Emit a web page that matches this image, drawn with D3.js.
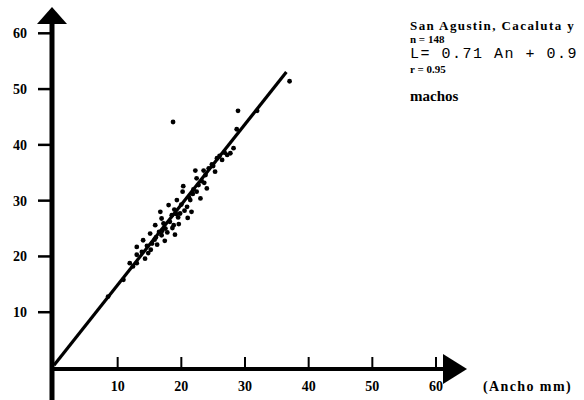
<!DOCTYPE html>
<html>
<head>
<meta charset="utf-8">
<script src="https://cdn.jsdelivr.net/npm/d3@7/dist/d3.min.js"></script>
<style>
  html, body { margin: 0; padding: 0; background: #fff; }
  svg { display: block; }
  .tick-label { font-family: "Liberation Serif", "DejaVu Serif", serif; font-weight: bold; font-size: 14px; fill: #000; }
  .note { font-family: "Liberation Serif", "DejaVu Serif", serif; font-weight: bold; fill: #000; }
  .eq { font-family: "Liberation Mono", "DejaVu Sans Mono", monospace; fill: #000; }
</style>
</head>
<body>
<svg id="chart" width="584" height="400"></svg>
<script>
// Ancho (mm) vs L: individual males
const anchoValues = [
  8.5, 10.9, 11.9, 12.4, 13.0, 13.0, 13.0, 13.8, 14.0, 14.3,
  14.8, 15.1, 15.4, 15.2, 15.9, 15.8, 16.2, 16.5, 16.7, 16.9,
  16.9, 17.2, 17.5, 17.4, 17.8, 18.0, 18.2, 18.5, 18.6, 18.8,
  18.9, 19.0, 19.3, 19.5, 19.8, 19.6, 20.0, 20.2, 20.3, 20.5,
  20.9, 21.0, 21.2, 21.4, 21.6, 21.8, 22.2, 22.4, 22.4, 22.7,
  23.0, 23.2, 23.5, 23.8, 24.0, 24.3, 24.8, 25.3, 25.6, 26.0,
  26.4, 26.8, 27.2, 27.7, 28.2, 28.7, 28.9, 18.7, 31.9, 37.0,
  14.6, 16.0, 17.0, 19.2, 21.9, 23.6, 25.0
];
const largoValues = [
  12.8, 15.8, 18.8, 18.2, 18.8, 20.3, 21.7, 20.8, 22.9, 19.6,
  20.6, 24.1, 22.3, 21.2, 25.6, 23.0, 22.1, 24.4, 28.0, 26.8,
  23.8, 25.9, 25.0, 22.8, 24.3, 29.2, 26.2, 27.4, 25.1, 25.6,
  28.4, 23.9, 30.1, 27.0, 27.7, 25.8, 29.3, 31.6, 32.6, 28.2,
  28.9, 26.9, 30.6, 30.1, 28.0, 31.2, 35.4, 34.0, 31.6, 32.8,
  30.4, 33.5, 35.4, 34.6, 32.2, 35.8, 36.5, 35.2, 37.6, 38.0,
  37.3, 38.6, 38.2, 38.5, 39.4, 42.8, 46.1, 44.1, 46.1, 51.4,
  21.9, 23.4, 24.6, 27.6, 32.0, 33.2, 36.2
];

// fitted line (drawn over the An range of the sample)
const fitSlope = 1.44;
const fitIntercept = 0.5;
const fitRange = [0, 36.5];

const xTicks = [10, 20, 30, 40, 50, 60];
const yTicks = [10, 20, 30, 40, 50, 60];
const noteLines = ["San Agustin, Cacaluta y", "n = 148"];
const equationText = "L= 0.71 An + 0.9";
const rText = "r = 0.95";
const groupText = "machos";
const xAxisTitle = "(Ancho mm)";

const svg = d3.select("#chart");

const x = d3.scaleLinear().domain([0, 60]).range([54, 436]);
const y = d3.scaleLinear().domain([0, 60]).range([368, 33.3]);

// vertical axis with arrow head
const axisX = 52;
svg.append("line")
  .attr("x1", axisX).attr("x2", axisX)
  .attr("y1", 20).attr("y2", 400)
  .attr("stroke", "#000").attr("stroke-width", 5);
svg.append("path")
  .attr("d", `M${axisX},7 L${axisX + 15},24 L${axisX - 15},24 Z`)
  .attr("fill", "#000");

// horizontal axis with arrow head
const axisY = 369;
svg.append("line")
  .attr("x1", axisX).attr("x2", 448)
  .attr("y1", axisY).attr("y2", axisY)
  .attr("stroke", "#000").attr("stroke-width", 4);
svg.append("path")
  .attr("d", `M467,${axisY} L443,${axisY - 15} L443,${axisY + 15} Z`)
  .attr("fill", "#000");

// y ticks and labels
const yAxisG = svg.append("g");
yAxisG.selectAll("line.yt").data(yTicks).join("line")
  .attr("class", "yt")
  .attr("x1", 38).attr("x2", axisX)
  .attr("y1", d => y(d)).attr("y2", d => y(d))
  .attr("stroke", "#000").attr("stroke-width", 2.5);
yAxisG.selectAll("text").data(yTicks).join("text")
  .attr("class", "tick-label")
  .attr("x", 27).attr("y", d => y(d) + 5)
  .attr("text-anchor", "end")
  .text(d => d);

// x ticks and labels
const xAxisG = svg.append("g");
xAxisG.selectAll("line.xt").data(xTicks).join("line")
  .attr("class", "xt")
  .attr("x1", d => x(d)).attr("x2", d => x(d))
  .attr("y1", axisY - 12).attr("y2", axisY)
  .attr("stroke", "#000").attr("stroke-width", 2);
xAxisG.selectAll("text").data(xTicks).join("text")
  .attr("class", "tick-label")
  .attr("x", d => x(d)).attr("y", 391)
  .attr("text-anchor", "middle")
  .text(d => d);
svg.append("text")
  .attr("class", "tick-label")
  .attr("x", 483).attr("y", 391)
  .attr("font-size", 13)
  .attr("letter-spacing", 1.4)
  .text(xAxisTitle);

// regression line
const fitLine = d3.line().x(d => x(d)).y(d => y(fitIntercept + fitSlope * d));
svg.append("path")
  .attr("d", fitLine(fitRange))
  .attr("fill", "none")
  .attr("stroke", "#000")
  .attr("stroke-width", 3.2);

// observations
svg.append("g").selectAll("circle")
  .data(d3.zip(anchoValues, largoValues))
  .join("circle")
  .attr("cx", d => x(d[0]))
  .attr("cy", d => y(d[1]))
  .attr("r", 2.4)
  .attr("fill", "#000");

// annotation block
const noteX = 410;
svg.append("text").attr("class", "note").attr("x", noteX).attr("y", 30)
  .attr("font-size", 13).attr("letter-spacing", 1.4).text(noteLines[0]);
svg.append("text").attr("class", "note").attr("x", noteX).attr("y", 43)
  .attr("font-size", 11).text(noteLines[1]);
svg.append("text").attr("class", "eq").attr("x", noteX).attr("y", 58)
  .attr("font-size", 15).attr("letter-spacing", 1.5).text(equationText);
svg.append("text").attr("class", "note").attr("x", noteX).attr("y", 73)
  .attr("font-size", 11).text(rText);
svg.append("text").attr("class", "note").attr("x", noteX).attr("y", 101)
  .attr("font-size", 15).text(groupText);
</script>
</body>
</html>
